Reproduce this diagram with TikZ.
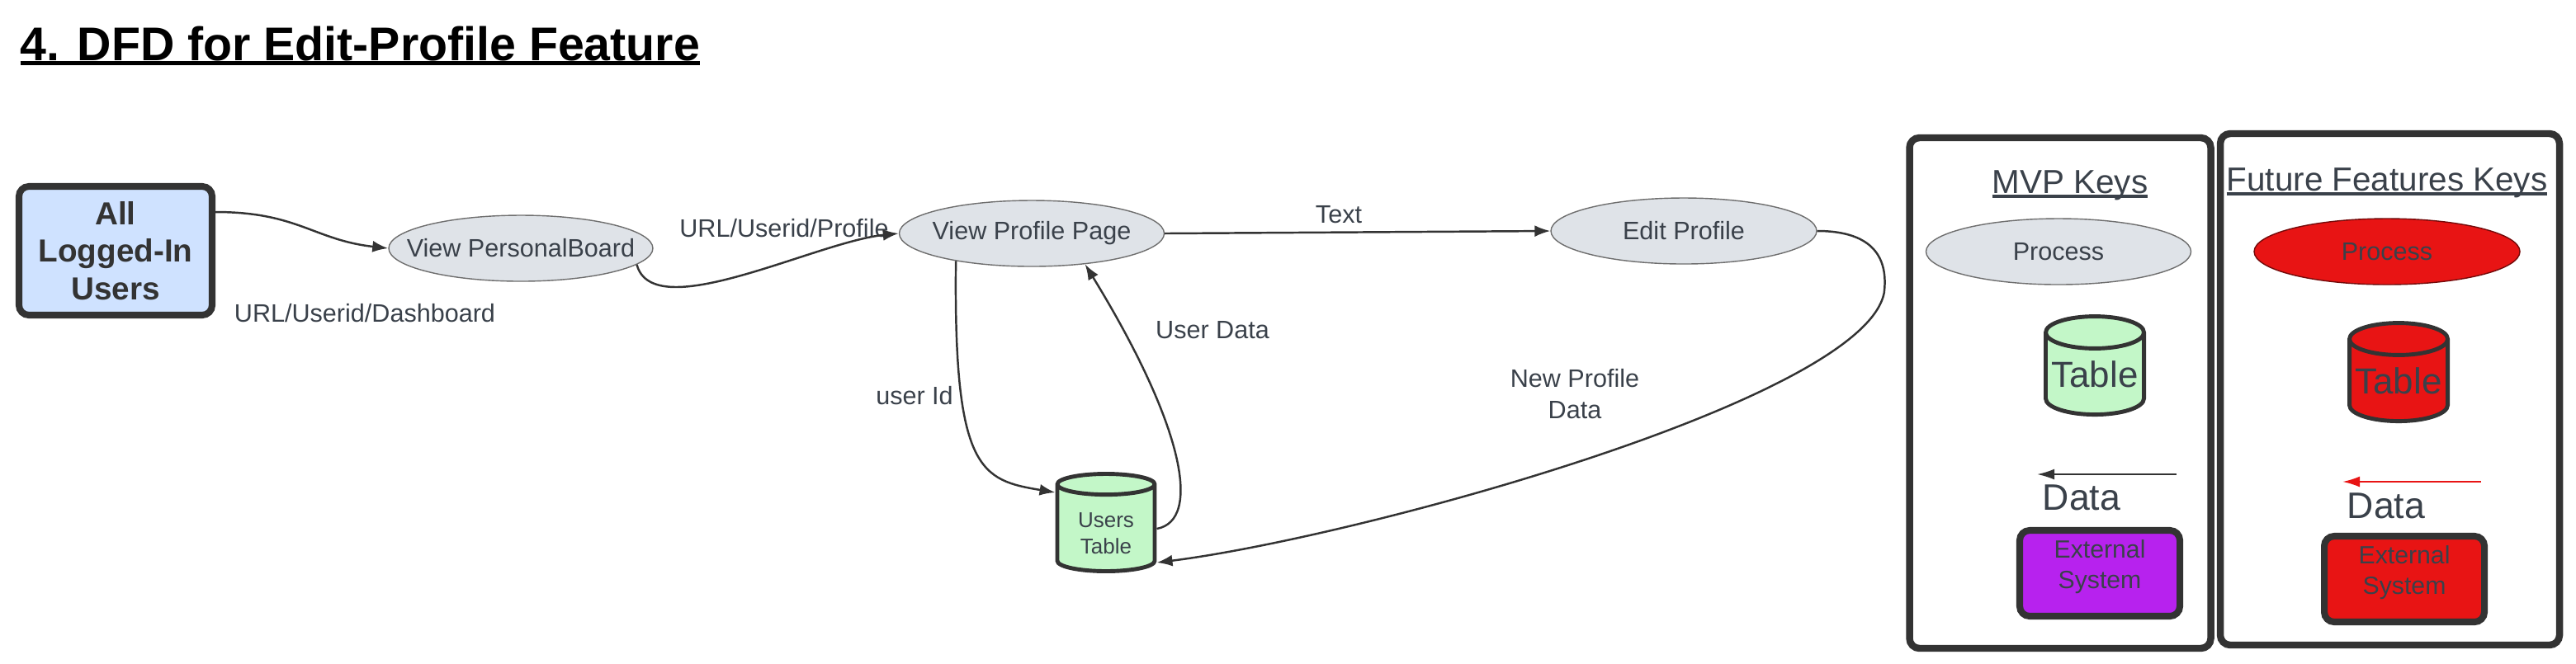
\documentclass[tikz,border=0pt]{standalone}
\usepackage{fontspec}
\setmainfont{Liberation Sans}
\usetikzlibrary{arrows.meta,shapes.geometric}
\definecolor{txtgray}{HTML}{3A414A}
\definecolor{linegray}{HTML}{333333}
\definecolor{rimgray}{HTML}{6E6E6E}
\definecolor{procgray}{HTML}{DFE3E8}
\definecolor{userblue}{HTML}{CFE2FF}
\definecolor{tablegreen}{HTML}{C3F7C8}
\definecolor{futurered}{HTML}{E81414}
\definecolor{extpurple}{HTML}{B722EE}
\newcommand{\plabel}[1]{\makebox[0pt]{#1}}
\newcommand{\ultext}[3]{\sbox0{#1}\rlap{\usebox0}\rule[#2]{\wd0}{#3}}
\tikzset{%
  >={Latex[width=1.4mm,length=1.9mm]},
  % Specifications for style of nodes:
          base/.style = {font=\fontsize{8.7}{10.8}\selectfont, text=txtgray,
                         align=center, inner sep=0pt},
       process/.style = {base, ellipse, draw=rimgray, line width=0.4pt, fill=procgray,
                         minimum width=3.21cm, minimum height=0.8cm},
        entity/.style = {base, rectangle, rounded corners=1.2mm, draw=linegray,
                         line width=2.3pt, fill=userblue, minimum width=2.34cm,
                         minimum height=1.56cm, text=linegray,
                         font=\bfseries\fontsize{11}{13}\selectfont},
     datastore/.style = {base, cylinder, shape border rotate=90, aspect=0.37,
                         draw=linegray, line width=1.4pt, fill=tablegreen,
                         minimum width=1.18cm, minimum height=1.18cm},
        keybox/.style = {rectangle, rounded corners=1.2mm, draw=linegray,
                         line width=2.4pt, fill=white},
      keytitle/.style = {base, anchor=base, font=\fontsize{11.5}{13}\selectfont},
       keydata/.style = {base, anchor=base, font=\fontsize{12.7}{14}\selectfont},
        extbox/.style = {base, rectangle, rounded corners=1.2mm, draw=linegray,
                         line width=2.3pt, minimum width=1.94cm, minimum height=1.04cm,
                         text depth=6.2pt, font=\fontsize{8.6}{10.3}\selectfont},
     flowlabel/.style = {base},
          flow/.style = {->, draw=linegray, line width=0.7pt},
}
\begin{document}
\begin{tikzpicture}[node distance=3cm]
  \useasboundingbox (0,0) rectangle (31.21,-8.04);
  % Title
  \node (title)     [anchor=base west, inner sep=0pt, font=\bfseries\fontsize{16.3}{20}\selectfont] at (0.24,-0.73) {\ultext{4. DFD for Edit-Profile Feature}{-1.7pt}{1.4pt}};

  % Specification of nodes (position, etc.)
  \node (users)     [entity] at (1.40,-3.04) {All\\Logged-In\\Users};
  \node (board)     [process, right of=users, xshift=1.91cm, yshift=0.03cm, minimum width=3.2cm] {\plabel{View PersonalBoard}};
  \node (profile)   [process, right of=board, xshift=3.19cm, yshift=0.18cm] {\plabel{View Profile Page}};
  \node (edit)      [process, right of=profile, xshift=4.90cm, yshift=0.03cm, minimum width=3.22cm] {\plabel{Edit Profile}};
  \node (usertab)   [datastore, below of=profile, xshift=0.90cm, yshift=-0.58cm, font=\fontsize{7.4}{9.1}\selectfont] {\smash{\raisebox{-4pt}{\begin{tabular}[c]{@{}c@{}}Users\\Table\end{tabular}}}};

  \node (dashlbl)   [flowlabel] at (4.42,-3.80) {URL/Userid/Dashboard};
  \node (proflbl)   [flowlabel] at (9.50,-2.77) {URL/Userid/Profile};
  \node (textlbl)   [flowlabel] at (16.22,-2.60) {Text};
  \node (datalbl)   [flowlabel] at (14.69,-4.00) {User Data};
  \node (idlbl)     [flowlabel] at (11.08,-4.80) {user Id};
  \node (newlbl)    [flowlabel] at (19.08,-4.78) {New Profile\\Data};

  % Keys
  \node (mvpkey)    [keybox, minimum width=3.65cm, minimum height=6.19cm] at (24.96,-4.765) {};
  \node (futkey)    [keybox, minimum width=4.11cm, minimum height=6.20cm] at (28.955,-4.72) {};
  \node (mvptitle)  [keytitle] at (25.08,-2.34) {\ultext{MVP Keys}{-1.7pt}{1pt}};
  \node (futtitle)  [keytitle] at (28.92,-2.31) {\ultext{Future Features Keys}{-1.7pt}{1pt}};
  \node (mvpproc)   [process] at (24.94,-3.05) {\plabel{Process}};
  \node (futproc)   [process, fill=futurered, draw=futurered!50!black, minimum width=3.22cm] at (28.92,-3.05) {\plabel{Process}};
  \node (mvptab)    [datastore, minimum width=1.19cm, minimum height=1.19cm, font=\fontsize{12.5}{14}\selectfont] at (25.38,-4.54) {Table};
  \node (futtab)    [datastore, fill=futurered, minimum width=1.19cm, minimum height=1.19cm, font=\fontsize{12.5}{14}\selectfont] at (29.06,-4.62) {Table};
  \coordinate (mvpfrom) at (26.37,-5.75);
  \coordinate (mvpto)   at (24.68,-5.75);
  \coordinate (futfrom) at (30.06,-5.84);
  \coordinate (futto)   at (28.38,-5.84);
  \node (mvpdata)   [keydata] at (25.22,-6.18) {Data};
  \node (futdata)   [keydata] at (28.91,-6.28) {Data};
  \node (mvpext)    [extbox, fill=extpurple] at (25.44,-6.95) {External\\System};
  \node (futext)    [extbox, fill=futurered] at (29.13,-7.02) {External\\System};

  % Flows
  \draw[flow]       ([yshift=0.47cm]users.east) .. controls +(1.0,0) and +(-0.9,0.1) .. (board.west);
  \draw[flow]       (board.-8) .. controls +(0.2,-0.75) and +(-1.0,-0.1) .. (profile.west);
  \draw[flow]       (profile.east) -- (edit.west);
  \draw[flow]       (profile.200) .. controls +(-0.03,-2.55) and +(-0.9,0.15) .. ([yshift=0.44cm]usertab.west);
  \draw[flow]       (usertab.east) .. controls +(0.55,0.1) and +(1.2,-1.96) .. (profile.-30);
  \draw[flow]       (edit.east) .. controls +(0.7,0) and +(0.05,0.4) .. ++(0.81,-0.75)
                    .. controls +(-0.25,-1.3) and +(2.4,0.3) .. ([yshift=-0.41cm]usertab.east);
  \draw[flow, line width=0.6pt, -{Latex[width=1.3mm,length=2.1mm]}]  (mvpfrom) -- (mvpto);
  \draw[flow, draw=futurered, line width=0.6pt, -{Latex[width=1.3mm,length=2.1mm]}]  (futfrom) -- (futto);
\end{tikzpicture}
\end{document}
